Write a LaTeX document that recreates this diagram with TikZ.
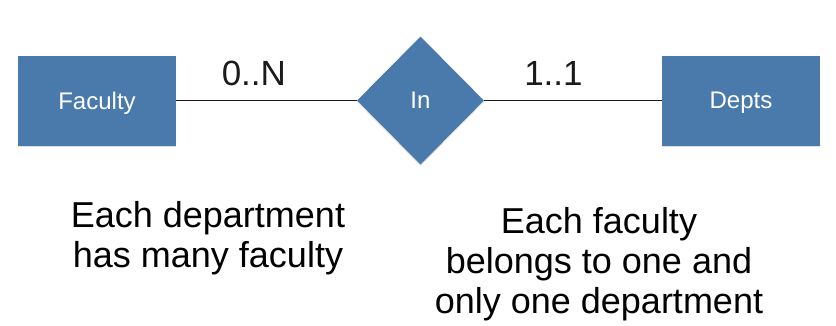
\documentclass[tikz,border=0pt]{standalone}
\usepackage{fontspec}
\setmainfont{Liberation Sans}
\usetikzlibrary{shapes.geometric,shadows}
\definecolor{entCol}{HTML}{4A7AAB}
\definecolor{lineCol}{HTML}{1A1A1A}
\tikzset{
  entity/.style={fill=entCol, minimum width=158pt, minimum height=90pt, inner sep=0pt,
                 font=\fontsize{24}{28}\selectfont, text=white, text depth=0pt,
                 drop shadow={shadow xshift=0pt, shadow yshift=-1.5pt, opacity=0.25}},
  rel/.style={diamond, aspect=1, fill=entCol, minimum width=127pt, minimum height=128pt,
              inner sep=0pt, font=\fontsize{24}{28}\selectfont, text=white, text depth=0pt,
              drop shadow={shadow xshift=0pt, shadow yshift=-1.5pt, opacity=0.25}},
  link/.style={line width=1.5pt, lineCol},
  card/.style={font=\fontsize{35}{40}\selectfont, anchor=base, inner sep=0pt, yshift=15pt},
  note/.style={font=\fontsize{36}{40}\selectfont, align=center, inner sep=0pt},
}

\begin{document}
\begin{tikzpicture}[x=1pt, y=-1pt]
  \useasboundingbox (0,0) rectangle (836,325);
  % entities and relationship
  \node[entity] (faculty) at (97,100.5) {Faculty};
  \node[rel]    (in)      at (420.5,100.5) {In};
  \node[entity] (depts)   at (741,100.5) {Depts};

  % links with cardinalities
  \draw[link] (faculty) -- (in) node[card, pos=0.43] (cardN) {0..N};
  \draw[link] (in) -- (depts) node[card, pos=0.39] (cardOne) {1..1};

  % notes
  \node[note] (noteL) at (208,238) {Each department\\has many faculty};
  \node[note] (noteR) at (599,264) {Each faculty\\belongs to one and\\only one department};
\end{tikzpicture}
\end{document}
